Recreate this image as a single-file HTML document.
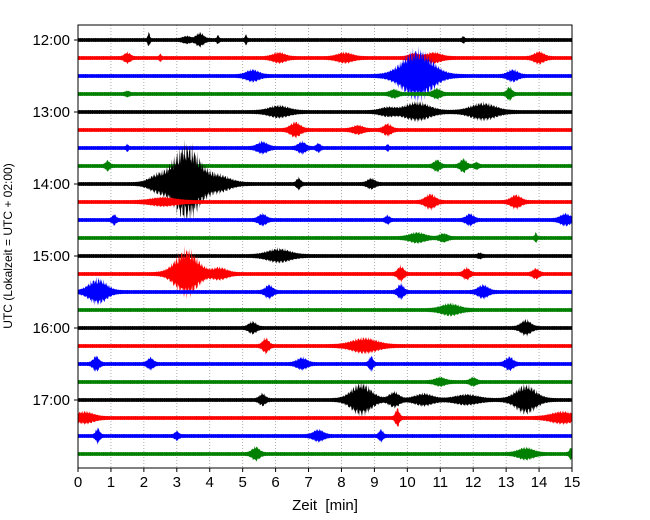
<!DOCTYPE html>
<html><head><meta charset="utf-8"><style>body{margin:0;background:#fff}svg{display:block;font-family:"Liberation Sans","DejaVu Sans",sans-serif}</style></head>
<body>
<svg id="chart" width="650" height="520"></svg>
<script>
const traceLabels=["12:00","13:00","14:00","15:00","16:00","17:00"];
const xTicks=[0,1,2,3,4,5,6,7,8,9,10,11,12,13,14,15];
const colors=["#000","#f00","#00f","#008000"];
// events per trace: [center minute, amplitude up (px), half-width (min)]
const ev0=[[2.15,8,0.04],[3.7,7,0.15],[3.3,3,0.15],[4.25,4,0.04],[5.1,5,0.04],[11.7,3,0.04]];
const ev1=[[1.5,5,0.12],[2.5,3,0.04],[6.1,5,0.25],[8.1,5,0.3],[10.2,4,0.2],[10.8,5,0.3],[14,6,0.2]];
const ev2=[[5.3,6,0.25],[10.3,29,0.6],[13.2,6,0.2]];
const ev3=[[1.5,2,0.08],[9.6,4,0.15],[10.9,5,0.15],[13.1,7,0.1]];
const ev4=[[6.1,6,0.4],[9.4,4,0.3],[10.3,10,0.5],[12.3,9,0.5]];
const ev5=[[6.6,8,0.2],[8.5,4,0.2],[9.4,6,0.15]];
const ev6=[[1.5,3,0.04],[5.6,6,0.2],[6.8,6,0.15],[7.3,4,0.08],[9.4,3,0.04]];
const ev7=[[0.9,5,0.08],[10.9,6,0.12],[11.7,7,0.12],[12.1,3,0.08]];
const ev8=[[3.3,44,0.55],[2.4,8,0.35],[4.3,8,0.45],[6.7,6,0.08],[8.9,5,0.15]];
const ev9=[[2.6,4,0.5],[10.7,8,0.2],[13.3,7,0.2]];
const ev10=[[1.1,5,0.08],[5.6,6,0.15],[9.4,4,0.08],[11.9,6,0.15],[14.8,6,0.2]];
const ev11=[[10.3,5,0.3],[11.1,4,0.15],[13.9,5,0.04]];
const ev12=[[6.1,7,0.45],[12.2,2,0.08]];
const ev13=[[3.3,27,0.45],[4.3,6,0.3],[9.8,8,0.12],[11.8,6,0.12],[13.9,5,0.12]];
const ev14=[[0.6,14,0.35],[5.8,7,0.15],[9.8,8,0.12],[12.3,7,0.2]];
const ev15=[[11.3,6,0.35]];
const ev16=[[5.3,6,0.15],[13.6,8,0.2]];
const ev17=[[5.7,8,0.12],[8.7,8,0.5]];
const ev18=[[0.55,8,0.12],[2.2,6,0.12],[6.8,6,0.2],[8.9,8,0.08],[13.1,7,0.15]];
const ev19=[[11,4,0.2],[12,4,0.12]];
const ev20=[[5.6,6,0.12],[8.6,18,0.4],[9.6,8,0.2],[10.5,6,0.35],[11.8,5,0.45],[13.6,16,0.4]];
const ev21=[[0.2,6,0.35],[9.7,10,0.08],[14.7,6,0.45]];
const ev22=[[0.6,8,0.08],[3,4,0.08],[7.3,6,0.2],[9.2,6,0.08]];
const ev23=[[5.4,7,0.15],[13.6,6,0.3],[15,8,0.08]];
const events=[ev0,ev1,ev2,ev3,ev4,ev5,ev6,ev7,ev8,ev9,ev10,ev11,ev12,ev13,ev14,ev15,ev16,ev17,ev18,ev19,ev20,ev21,ev22,ev23];

const NS="http://www.w3.org/2000/svg";
const svg=document.getElementById("chart");
const X0=78,X1=572,Y0=25,Y1=468,T0=40,DT=18;
const xs=m=>X0+(X1-X0)*m/15;
const ys=i=>T0+DT*i;
function mk(t,a,p){const e=document.createElementNS(NS,t);for(const k in a)e.setAttribute(k,a[k]);(p||svg).appendChild(e);return e;}

const grid=mk("g",{});


xTicks.forEach(m=>{if(m>0&&m<15)mk("line",{x1:xs(m),x2:xs(m),y1:Y0,y2:Y1,stroke:"#999","stroke-width":0.8,"stroke-dasharray":"1,2"},grid);});

const traces=mk("g",{});


events.forEach((evs,i)=>{
  const y=ys(i);let up=[],dn=[];
  for(let k=0;k<=1000;k++){const m=k*0.015;let a=0;
    evs.forEach(e=>{const d=(m-e[0])/e[2];a+=e[1]*Math.exp(-d*d);});
    // spiky texture (drawing style only)
    const tex=0.45+0.55*Math.abs(Math.sin(k*1.7+i)*Math.cos(k*0.61+i*2));
    const tex2=0.45+0.55*Math.abs(Math.sin(k*1.3+i*3)*Math.cos(k*0.47));
    const base=1.6+0.4*Math.abs(Math.sin(k*2.3+i));
    up.push(xs(m).toFixed(1)+","+(y-base-a*tex).toFixed(1));dn.unshift(xs(m).toFixed(1)+","+(y+base+a*0.9*tex2).toFixed(1));}
  const p=mk("polygon",{points:up.concat(dn).join(" "),fill:colors[i%4]},traces);
  
  
});

const frame=mk("rect",{x:X0,y:Y0,width:X1-X0,height:Y1-Y0,fill:"none",stroke:"#000","stroke-width":1});



xTicks.forEach(m=>{mk("line",{x1:xs(m),x2:xs(m),y1:Y1,y2:Y1+4,stroke:"#000"});
  const t=mk("text",{x:xs(m),y:Y1+19,"font-size":15,"text-anchor":"middle"});t.textContent=m;
  
  });
traceLabels.forEach((l,j)=>{const y=ys(j*4);mk("line",{x1:X0-4,x2:X0,y1:y,y2:y,stroke:"#000"});
  const t=mk("text",{x:X0-8,y:y+5,"font-size":15,"text-anchor":"end"});t.textContent=l;
  
  });
const xl=mk("text",{x:325,y:510,"font-size":15,"text-anchor":"middle",style:"white-space:pre"});xl.textContent="Zeit  [min]";


const yl=mk("text",{x:0,y:0,"font-size":12,"text-anchor":"middle",transform:"translate(12,246) rotate(-90)"});yl.textContent="UTC (Lokalzeit = UTC + 02:00)";


</script>
</body></html>
